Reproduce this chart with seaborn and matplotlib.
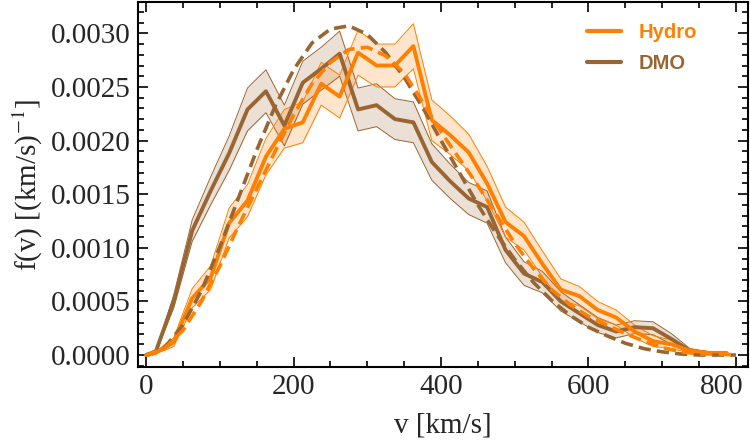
import numpy as np
import pandas as pd
import seaborn as sns
import matplotlib
matplotlib.use('Agg')
import matplotlib.pyplot as plt
import matplotlib.transforms as mtransforms
from matplotlib.ticker import MultipleLocator, FormatStrFormatter
from matplotlib.lines import Line2D

# binned speed distributions (bin centres, km/s)
v_bins = [0, 12.5, 37.5, 62.5, 87.5, 112.5, 137.5, 162.5, 187.5, 212.5, 237.5,
          262.5, 287.5, 312.5, 337.5, 362.5, 387.5, 412.5, 437.5, 462.5, 487.5,
          512.5, 537.5, 562.5, 587.5, 612.5, 637.5, 662.5, 687.5, 712.5, 737.5,
          762.5, 787.5]

hydro_f = [0, 0.00002, 0.00012, 0.00053, 0.00072, 0.00123, 0.00144, 0.00185,
           0.00211, 0.00217, 0.00253, 0.00241, 0.00282, 0.00270, 0.00270, 0.00288,
           0.00219, 0.00205, 0.00189, 0.00160, 0.00124, 0.00111, 0.00085, 0.00061,
           0.00055, 0.00042, 0.00035, 0.00022, 0.00013, 0.00010, 0.00004, 0.00002,
           0.00002]
hydro_err = [0, 0.00001, 0.00004, 0.00009, 0.00011, 0.00014, 0.00015, 0.00017,
             0.00018, 0.00019, 0.0002, 0.0002, 0.00021, 0.0002, 0.0002, 0.00021,
             0.00019, 0.00018, 0.00017, 0.00016, 0.00014, 0.00013, 0.00012, 0.0001,
             0.00009, 0.00008, 0.00007, 0.00006, 0.00005, 0.00004, 0.00002, 0.00001,
             0.00001]

dmo_f = [0, 0.00002, 0.00050, 0.00116, 0.00153, 0.00188, 0.00229, 0.00246,
         0.00214, 0.00254, 0.00267, 0.00281, 0.00229, 0.00233, 0.00220, 0.00217,
         0.00180, 0.00162, 0.00146, 0.00138, 0.00098, 0.00076, 0.00068, 0.00050,
         0.00039, 0.00028, 0.00022, 0.00026, 0.00025, 0.00015, 0.00004, 0.00002,
         0.00001]
dmo_err = [0, 0.00001, 0.00006, 0.0001, 0.00013, 0.00016, 0.0002, 0.0002,
           0.00019, 0.0002, 0.0002, 0.00021, 0.0002, 0.0002, 0.00019, 0.00019,
           0.00017, 0.00016, 0.00015, 0.00015, 0.00012, 0.00011, 0.0001, 0.00009,
           0.00008, 0.00007, 0.00006, 0.00006, 0.00006, 0.00005, 0.00002, 0.00001,
           0.00001]

# best-fit Maxwellian curves
v_fit = [0, 25, 50, 75, 100, 125, 150, 175, 200, 225, 250, 275, 300, 325, 350,
         375, 400, 425, 450, 475, 500, 525, 550, 575, 600, 625, 650, 675, 700,
         725, 750, 775, 800]
hydro_fit = [0, 0.00006, 0.00023, 0.00050, 0.00083, 0.00120, 0.00155, 0.00190,
             0.00224, 0.00253, 0.00273, 0.00285, 0.00287, 0.00279, 0.00263, 0.00236,
             0.00208, 0.00183, 0.00158, 0.00131, 0.00104, 0.00081, 0.00061, 0.00047,
             0.00036, 0.00028, 0.00020, 0.00013, 0.00007, 0.00003, 0.00001, 0.00001,
             0.0]
dmo_fit = [0, 0.00007, 0.00028, 0.00060, 0.00101, 0.00146, 0.00191, 0.00232,
           0.00266, 0.00291, 0.00304, 0.00307, 0.00299, 0.00282, 0.00259, 0.00231,
           0.00200, 0.00170, 0.00140, 0.00113, 0.00089, 0.00068, 0.00051, 0.00037,
           0.00026, 0.00018, 0.00011, 0.00006, 0.00003, 0.00001, 0.0, 0.0, 0.0]

hydro_col = '#FF8000'
dmo_col = '#996633'

binned = pd.DataFrame({'v': v_bins, 'hydro': hydro_f, 'dmo': dmo_f,
                       'hydro_err': hydro_err, 'dmo_err': dmo_err})
fits = pd.DataFrame({'v': v_fit, 'hydro': hydro_fit, 'dmo': dmo_fit})

sns.set_style('ticks')
plt.rcParams['font.family'] = ['Liberation Serif', 'DejaVu Serif']
plt.rcParams['mathtext.fontset'] = 'stix'

fig, ax = plt.subplots(figsize=(7.5, 4.46), dpi=100)
fig.subplots_adjust(left=0.184, right=0.997, top=0.995, bottom=0.177)

# uncertainty bands
for key, col in [('dmo', dmo_col), ('hydro', hydro_col)]:
    lo = binned[key] - binned[key + '_err']
    hi = binned[key] + binned[key + '_err']
    ax.fill_between(binned['v'], lo, hi, color=col, alpha=0.2, lw=0)
    ax.plot(binned['v'], lo, color=col, lw=0.7)
    ax.plot(binned['v'], hi, color=col, lw=0.7)

sns.lineplot(data=binned, x='v', y='dmo', color=dmo_col, lw=2.8, ax=ax)
sns.lineplot(data=binned, x='v', y='hydro', color=hydro_col, lw=2.8, ax=ax)
sns.lineplot(data=fits, x='v', y='dmo', color=dmo_col, lw=2.6,
             linestyle=(0, (3.4, 1.7)), ax=ax)
sns.lineplot(data=fits, x='v', y='hydro', color=hydro_col, lw=2.6,
             linestyle=(0, (3.4, 1.7)), ax=ax)

ax.set_xlim(-11, 816)
ax.set_ylim(-0.000112, 0.00329)
ax.set_xticks([0, 200, 400, 600, 800])
ax.xaxis.set_minor_locator(MultipleLocator(50))
ax.yaxis.set_major_locator(MultipleLocator(0.0005))
ax.yaxis.set_minor_locator(MultipleLocator(0.0001))
ax.yaxis.set_major_formatter(FormatStrFormatter('%.4f'))
ax.tick_params(which='both', direction='in', top=True, right=True,
               labelsize=21, width=1.2, color='black')
ax.tick_params(which='major', length=7, pad=5)
ax.tick_params(which='minor', length=4)
for s in ax.spines.values():
    s.set_linewidth(1.5)
    s.set_color('black')

# keep the last x label inside the figure
last = ax.xaxis.get_major_ticks()[-1].label1
last.set_transform(last.get_transform() +
                   mtransforms.ScaledTranslation(-14 / 100, 0, fig.dpi_scale_trans))

ax.set_xlabel('v [km/s]', fontsize=21, labelpad=9)
ax.set_ylabel(r'f(v) [(km/s)$^{-1}$]', fontsize=21, labelpad=4)

handles = [Line2D([], [], color=hydro_col, lw=3), Line2D([], [], color=dmo_col, lw=3)]
ax.legend(handles, ['Hydro', 'DMO'], loc='upper right', frameon=False,
          labelcolor='linecolor', handlelength=1.65, handletextpad=0.9,
          labelspacing=0.6, borderaxespad=0, bbox_to_anchor=(0.93, 0.965),
          prop={'family': 'Liberation Sans', 'weight': 'bold', 'size': 14.5})

fig.savefig('out.png', dpi=100)
